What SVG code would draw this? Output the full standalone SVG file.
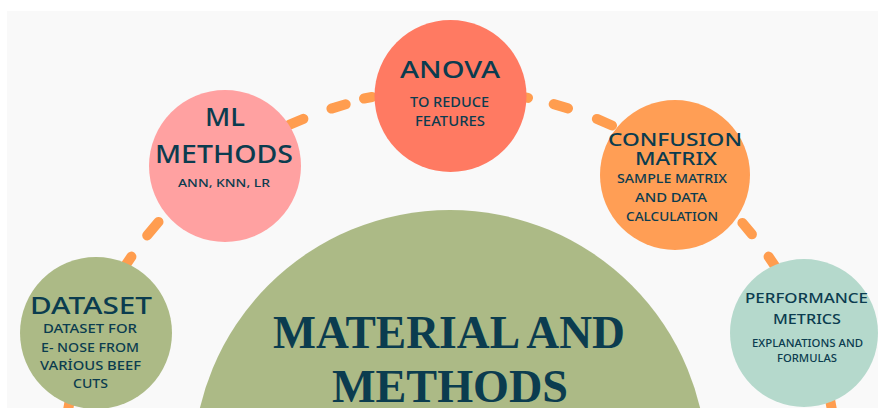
<svg xmlns="http://www.w3.org/2000/svg" width="878" height="408" viewBox="0 0 878 408">
<style>
.lbl{font-family:"Noto Sans","Open Sans",sans-serif;fill:#0b3c4f;text-anchor:middle;font-weight:500}
.ttl{font-family:"Liberation Serif","DejaVu Serif",serif;fill:#0b3c4f;text-anchor:middle;font-weight:bold}
.dash{fill:none;stroke:#ff9d4f;stroke-width:10;stroke-linecap:round}
</style>
<rect x="7" y="11" width="871" height="397" fill="#f9f9f9"/>
<g id="connectors">
<path class="dash" d="M67.2 414.6L69.9 400 M123.1 268.9L131.4 256.6 M147.2 235.4L158.5 221.9"/>
<path class="dash" d="M289.7 124.7L303.4 118.8 M331.4 108.6L345.7 104.3 M364 98.5L372 97"/>
<path class="dash" d="M513.4 95.2L528 97.9 M553.7 104.1L568 108.4 M596.9 118.9L612 125.5"/>
<path class="dash" d="M742.4 222.9L751.9 234.3 M768.6 256.6L776.9 268.9 M830.1 400L832.8 414.6"/>
</g>
<g id="node-material">
<circle cx="450" cy="467" r="257" fill="#acba86"/>
<text class="ttl" x="449" y="348" font-size="46" textLength="352" lengthAdjust="spacingAndGlyphs">MATERIAL AND</text>
<text class="ttl" x="450" y="402" font-size="46" textLength="236" lengthAdjust="spacingAndGlyphs">METHODS</text>
</g>
<g id="node-anova">
<circle cx="450.5" cy="96" r="76" fill="#ff7a62"/>
<text class="lbl" x="450" y="78" font-size="23" textLength="100" lengthAdjust="spacingAndGlyphs">ANOVA</text>
<text class="lbl" x="449.5" y="107" font-size="13.5" textLength="79" lengthAdjust="spacingAndGlyphs">TO REDUCE</text>
<text class="lbl" x="450" y="126" font-size="13.5" textLength="70" lengthAdjust="spacingAndGlyphs">FEATURES</text>
</g>
<g id="node-ml">
<circle cx="225" cy="166" r="76" fill="#ffa1a1"/>
<text class="lbl" x="225" y="126" font-size="25" textLength="40" lengthAdjust="spacingAndGlyphs">ML</text>
<text class="lbl" x="224" y="163" font-size="25" textLength="138" lengthAdjust="spacingAndGlyphs">METHODS</text>
<text class="lbl" x="224" y="187" font-size="11.5" textLength="92" lengthAdjust="spacingAndGlyphs">ANN, KNN, LR</text>
</g>
<g id="node-confusion">
<circle cx="675" cy="175" r="75" fill="#ff9e55"/>
<text class="lbl" x="675" y="146" font-size="18" textLength="134" lengthAdjust="spacingAndGlyphs">CONFUSION</text>
<text class="lbl" x="676" y="164.5" font-size="18" textLength="82" lengthAdjust="spacingAndGlyphs">MATRIX</text>
<text class="lbl" x="672" y="183" font-size="12.5" textLength="110" lengthAdjust="spacingAndGlyphs">SAMPLE MATRIX</text>
<text class="lbl" x="671" y="202" font-size="12.5" textLength="72" lengthAdjust="spacingAndGlyphs">AND DATA</text>
<text class="lbl" x="672" y="221" font-size="12.5" textLength="92" lengthAdjust="spacingAndGlyphs">CALCULATION</text>
</g>
<g id="node-dataset">
<circle cx="96" cy="333" r="76" fill="#acba86"/>
<text class="lbl" x="91" y="314" font-size="24" textLength="122" lengthAdjust="spacingAndGlyphs">DATASET</text>
<text class="lbl" x="90" y="333" font-size="12.5" textLength="94" lengthAdjust="spacingAndGlyphs">DATASET FOR</text>
<text class="lbl" x="90" y="352" font-size="12.5" textLength="98" lengthAdjust="spacingAndGlyphs">E- NOSE FROM</text>
<text class="lbl" x="90.5" y="370" font-size="12.5" textLength="101" lengthAdjust="spacingAndGlyphs">VARİOUS BEEF</text>
<text class="lbl" x="90.5" y="388" font-size="12.5" textLength="35" lengthAdjust="spacingAndGlyphs">CUTS</text>
</g>
<g id="node-performance">
<circle cx="804" cy="333" r="74" fill="#b5d9cc"/>
<text class="lbl" x="806.5" y="303" font-size="15" textLength="123" lengthAdjust="spacingAndGlyphs">PERFORMANCE</text>
<text class="lbl" x="807" y="324" font-size="15" textLength="68" lengthAdjust="spacingAndGlyphs">METRICS</text>
<text class="lbl" x="807.5" y="347" font-size="10" textLength="111" lengthAdjust="spacingAndGlyphs">EXPLANATIONS AND</text>
<text class="lbl" x="807" y="362" font-size="10" textLength="60" lengthAdjust="spacingAndGlyphs">FORMULAS</text>
</g>
</svg>
